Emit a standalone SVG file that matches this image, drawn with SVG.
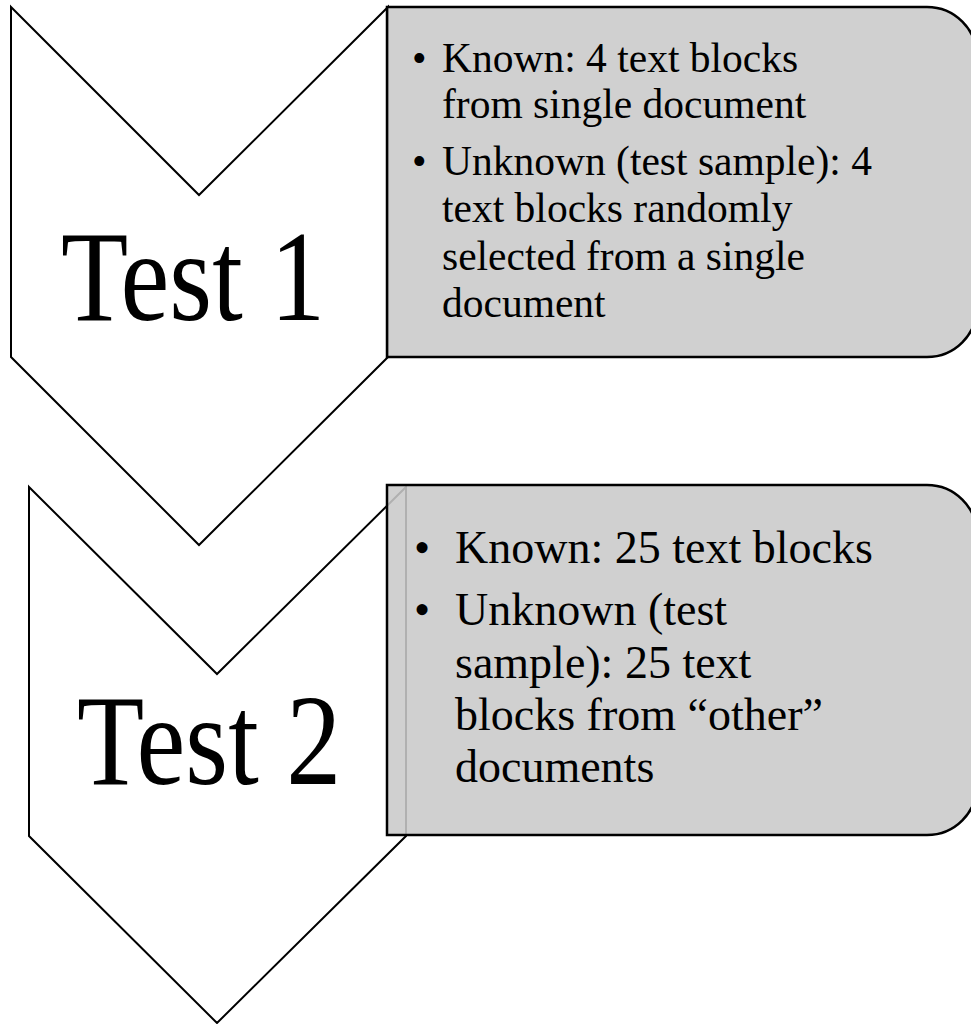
<svg xmlns="http://www.w3.org/2000/svg" width="971" height="1024" viewBox="0 0 971 1024">
<style>
.chev{fill:#ffffff;stroke:#000000;stroke-width:2;stroke-linejoin:miter}
.box{fill:#c9c9c9;fill-opacity:0.875;stroke:#000000;stroke-width:2.5}
.big{font-size:110px;fill:#000}
.t1{font-size:41.5px;fill:#000}
.t2{font-size:46px;fill:#000}
</style>
<rect width="971" height="1024" fill="#ffffff"/>
<g id="connectors"></g>
<g font-family="Liberation Serif, DejaVu Serif, serif">
<g id="test1">
<polygon class="chev" points="11,7 199,195 388,7 388,357 199,545 11,357"/>
<text class="big" x="0" y="0" transform="translate(61,320) scale(1,1.18)">Test 1</text>
</g>
<g id="test2">
<polygon class="chev" points="29,487 217,674 406,487 406,836 217,1023 29,836"/>
<text class="big" x="0" y="0" transform="translate(77,784) scale(1,1.18)">Test 2</text>
</g>
<g id="box1">
<path class="box" d="M387,7 H927 A50,50 0 0 1 977,57 V307 A50,50 0 0 1 927,357 H387 Z"/>
<text class="t1"><tspan x="412" y="72">•</tspan><tspan x="442" y="72">Known: 4 text blocks</tspan><tspan x="442" y="118">from single document</tspan><tspan x="412" y="175">•</tspan><tspan x="442" y="175">Unknown (test sample): 4</tspan><tspan x="442" y="222">text blocks randomly</tspan><tspan x="442" y="270">selected from a single</tspan><tspan x="442" y="317">document</tspan></text>
</g>
<g id="box2">
<path class="box" d="M387,485 H927 A50,50 0 0 1 977,535 V785 A50,50 0 0 1 927,835 H387 Z"/>
<text class="t2"><tspan x="414" y="563">•</tspan><tspan x="455" y="563">Known: 25 text blocks</tspan><tspan x="414" y="625">•</tspan><tspan x="455" y="625">Unknown (test</tspan><tspan x="455" y="678">sample): 25 text</tspan><tspan x="455" y="730">blocks from “other”</tspan><tspan x="455" y="782">documents</tspan></text>
</g>
</g>
</svg>
